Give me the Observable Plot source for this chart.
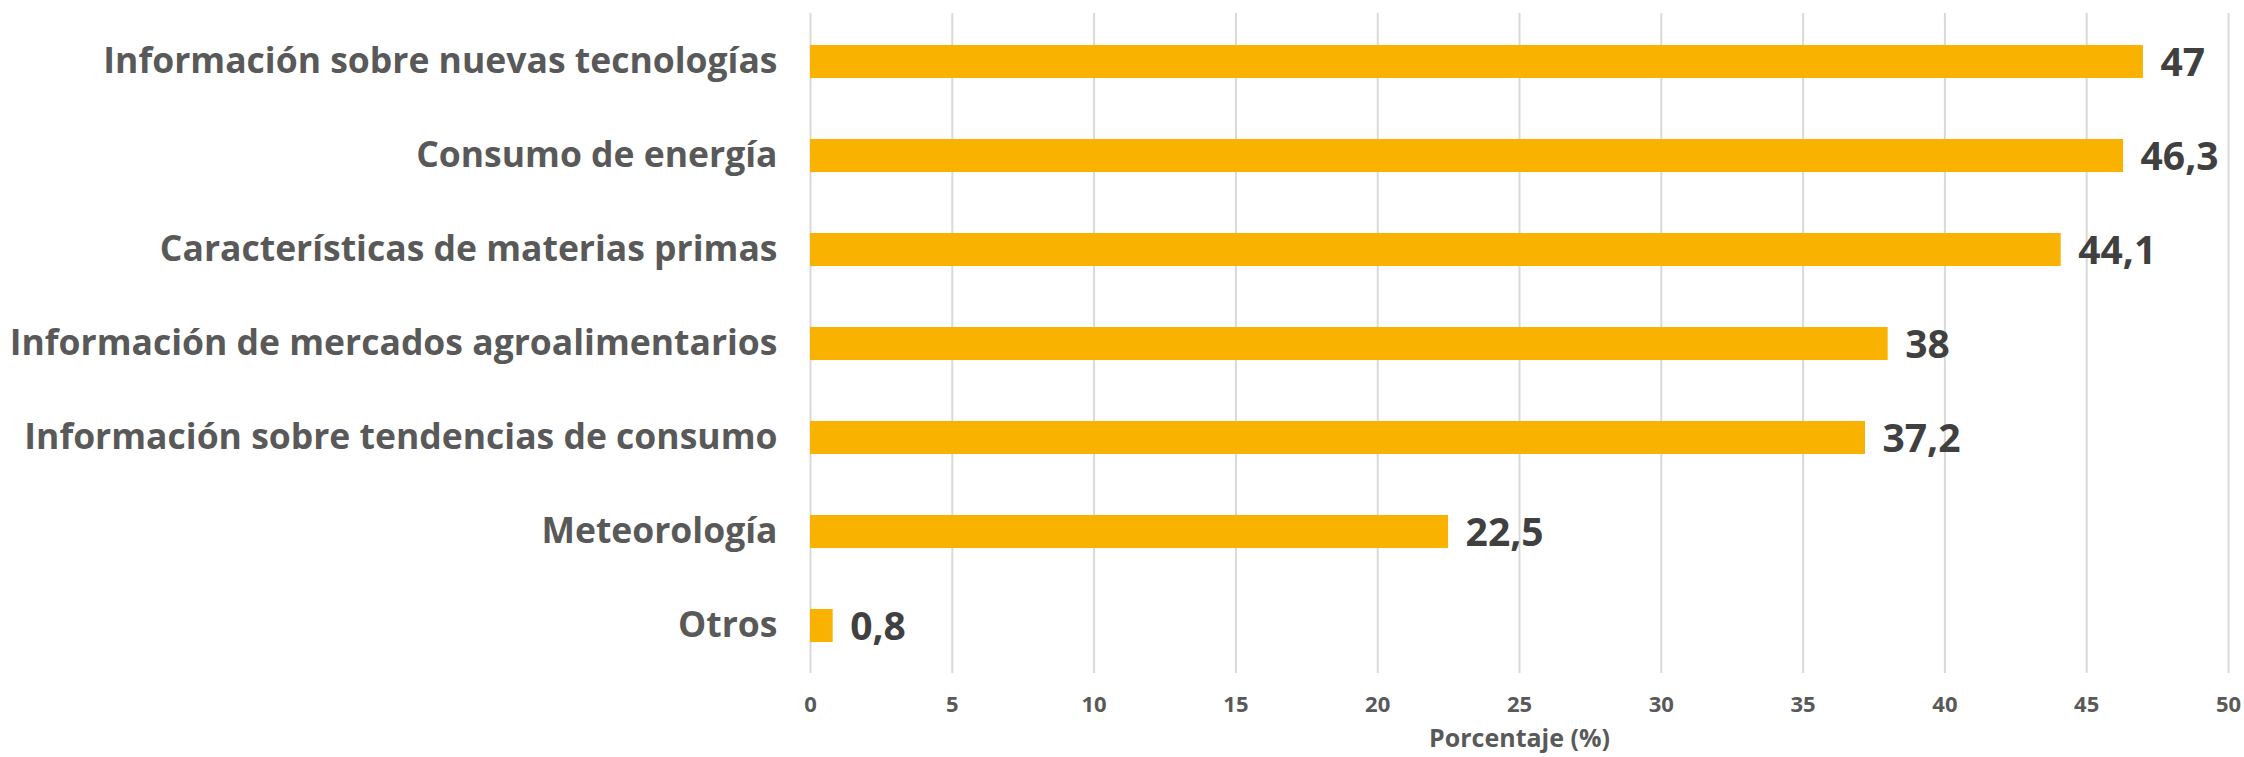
<!DOCTYPE html>
<html>
<head>
<meta charset="utf-8">
<script src="https://cdn.jsdelivr.net/npm/d3@7"></script>
<script src="https://cdn.jsdelivr.net/npm/@observablehq/plot@0.6"></script>
<style>
  html, body { margin: 0; padding: 0; background: #fff; }
  #chart svg { display: block; }
</style>
</head>
<body>
<div id="chart"></div>
<script>
const categories = [
  "Información sobre nuevas tecnologías",
  "Consumo de energía",
  "Características de materias primas",
  "Información de mercados agroalimentarios",
  "Información sobre tendencias de consumo",
  "Meteorología",
  "Otros"
];
const values = [47, 46.3, 44.1, 38, 37.2, 22.5, 0.8];
const xTicks = [0, 5, 10, 15, 20, 25, 30, 35, 40, 45, 50];
const xLabel = "Porcentaje (%)";

const data = categories.map((c, i) => ({category: c, value: values[i]}));
const fmt = v => String(v).replace(".", ",");
const font = "'Open Sans', sans-serif";

const chart = Plot.plot({
  width: 2244,
  height: 757,
  marginLeft: 810,
  marginRight: 16,
  marginTop: 13,
  marginBottom: 84,
  style: {fontFamily: font, background: "#fff"},
  x: {domain: [0, 50], ticks: xTicks},
  y: {domain: categories, paddingInner: 0.65, paddingOuter: 0.325},
  marks: [
    Plot.gridX(xTicks, {stroke: "#d9d9d9", strokeWidth: 2, strokeOpacity: 1}),
    Plot.barX(data, {x: "value", y: "category", fill: "#F9B200"}),
    Plot.text(data, {
      x: "value", y: "category", text: d => fmt(d.value),
      textAnchor: "start", dx: 17, dy: 2,
      fontSize: 39, fontWeight: "bold", fill: "#404040"
    }),
    Plot.axisY({
      tickSize: 0, tickPadding: 33, fontSize: 35.5, fontWeight: "bold",
      color: "#595959", label: null
    }),
    Plot.axisX({
      ticks: xTicks, tickSize: 0, tickPadding: 23, fontSize: 22, fontWeight: "bold",
      color: "#595959", tickFormat: d => String(d),
      label: xLabel, labelAnchor: "center", labelArrow: "none", labelOffset: 73
    })
  ]
});
chart.querySelectorAll("text").forEach(t => { t.style.fontFamily = font; });
// axis title slightly larger than tick labels
chart.querySelectorAll("[aria-label='x-axis label'] text").forEach(t => t.setAttribute("font-size", 25));
document.getElementById("chart").append(chart);
</script>
</body>
</html>
